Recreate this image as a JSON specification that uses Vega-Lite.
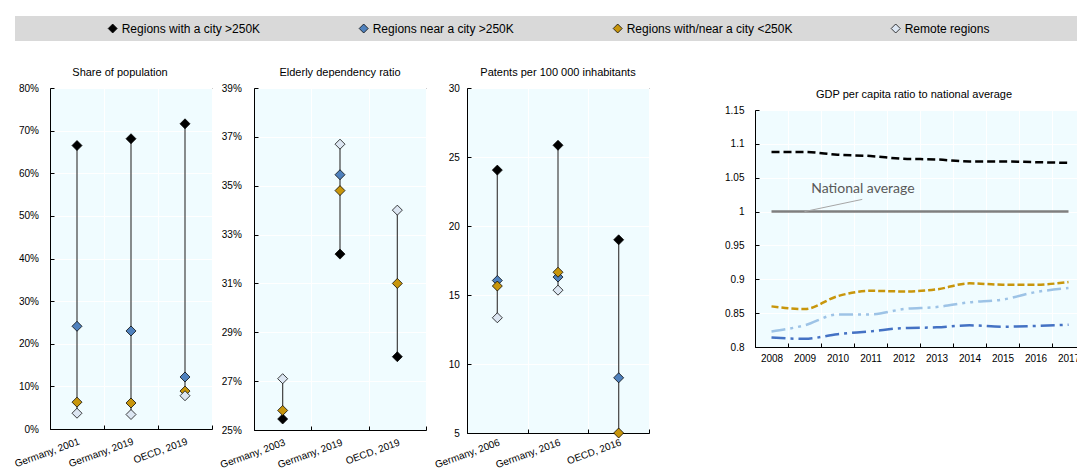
{
"$schema": "https://vega.github.io/schema/vega-lite/v6.json",
"background": "white",
"padding": {"left": 12, "top": 16, "right": 0, "bottom": 0},
"config": {
  "font": "Liberation Sans",
  "view": {"fill": "#F0FCFF", "stroke": "#000000", "strokeWidth": 1},
  "axis": {"labelFontSize": 10, "labelColor": "#000000", "domainColor": "#000000", "domainWidth": 1, "tickColor": "#000000", "tickSize": -4, "gridColor": "#FFFFFF", "gridWidth": 1, "labelOverlap": false},
  "title": {"fontSize": 11, "fontWeight": "normal", "color": "#000000", "offset": 5, "anchor": "middle"}
},
"datasets": {
  "dots": [
    {"p": "pop", "cat": "Germany, 2001", "region": "Regions with a city >250K", "v": 66.5},
    {"p": "pop", "cat": "Germany, 2001", "region": "Regions near a city >250K", "v": 24.1},
    {"p": "pop", "cat": "Germany, 2001", "region": "Regions with/near a city <250K", "v": 6.3},
    {"p": "pop", "cat": "Germany, 2001", "region": "Remote regions", "v": 3.7},
    {"p": "pop", "cat": "Germany, 2019", "region": "Regions with a city >250K", "v": 68.1},
    {"p": "pop", "cat": "Germany, 2019", "region": "Regions near a city >250K", "v": 23.0},
    {"p": "pop", "cat": "Germany, 2019", "region": "Regions with/near a city <250K", "v": 6.1},
    {"p": "pop", "cat": "Germany, 2019", "region": "Remote regions", "v": 3.4},
    {"p": "pop", "cat": "OECD, 2019", "region": "Regions with a city >250K", "v": 71.6},
    {"p": "pop", "cat": "OECD, 2019", "region": "Regions near a city >250K", "v": 12.2},
    {"p": "pop", "cat": "OECD, 2019", "region": "Regions with/near a city <250K", "v": 8.9},
    {"p": "pop", "cat": "OECD, 2019", "region": "Remote regions", "v": 7.8},
    {"p": "eld", "cat": "Germany, 2003", "region": "Regions with a city >250K", "v": 25.45},
    {"p": "eld", "cat": "Germany, 2003", "region": "Regions with/near a city <250K", "v": 25.8},
    {"p": "eld", "cat": "Germany, 2003", "region": "Remote regions", "v": 27.1},
    {"p": "eld", "cat": "Germany, 2019", "region": "Regions with a city >250K", "v": 32.2},
    {"p": "eld", "cat": "Germany, 2019", "region": "Regions near a city >250K", "v": 35.45},
    {"p": "eld", "cat": "Germany, 2019", "region": "Regions with/near a city <250K", "v": 34.8},
    {"p": "eld", "cat": "Germany, 2019", "region": "Remote regions", "v": 36.7},
    {"p": "eld", "cat": "OECD, 2019", "region": "Regions with a city >250K", "v": 28.0},
    {"p": "eld", "cat": "OECD, 2019", "region": "Regions with/near a city <250K", "v": 31.0},
    {"p": "eld", "cat": "OECD, 2019", "region": "Remote regions", "v": 34.0},
    {"p": "pat", "cat": "Germany, 2006", "region": "Regions with a city >250K", "v": 24.05},
    {"p": "pat", "cat": "Germany, 2006", "region": "Regions near a city >250K", "v": 16.05},
    {"p": "pat", "cat": "Germany, 2006", "region": "Regions with/near a city <250K", "v": 15.65},
    {"p": "pat", "cat": "Germany, 2006", "region": "Remote regions", "v": 13.35},
    {"p": "pat", "cat": "Germany, 2016", "region": "Regions with a city >250K", "v": 25.85},
    {"p": "pat", "cat": "Germany, 2016", "region": "Regions near a city >250K", "v": 16.3},
    {"p": "pat", "cat": "Germany, 2016", "region": "Regions with/near a city <250K", "v": 16.65},
    {"p": "pat", "cat": "Germany, 2016", "region": "Remote regions", "v": 15.35},
    {"p": "pat", "cat": "OECD, 2016", "region": "Regions with a city >250K", "v": 19.0},
    {"p": "pat", "cat": "OECD, 2016", "region": "Regions near a city >250K", "v": 9.0},
    {"p": "pat", "cat": "OECD, 2016", "region": "Regions with/near a city <250K", "v": 5.0}
  ],
  "gdp": [
    {"year": 2008, "series": "National average", "v": 1.0},
    {"year": 2009, "series": "National average", "v": 1.0},
    {"year": 2010, "series": "National average", "v": 1.0},
    {"year": 2011, "series": "National average", "v": 1.0},
    {"year": 2012, "series": "National average", "v": 1.0},
    {"year": 2013, "series": "National average", "v": 1.0},
    {"year": 2014, "series": "National average", "v": 1.0},
    {"year": 2015, "series": "National average", "v": 1.0},
    {"year": 2016, "series": "National average", "v": 1.0},
    {"year": 2017, "series": "National average", "v": 1.0},
    {"year": 2008, "series": "Regions with a city >250K", "v": 1.088},
    {"year": 2009, "series": "Regions with a city >250K", "v": 1.088},
    {"year": 2010, "series": "Regions with a city >250K", "v": 1.084},
    {"year": 2011, "series": "Regions with a city >250K", "v": 1.082},
    {"year": 2012, "series": "Regions with a city >250K", "v": 1.078},
    {"year": 2013, "series": "Regions with a city >250K", "v": 1.077},
    {"year": 2014, "series": "Regions with a city >250K", "v": 1.074},
    {"year": 2015, "series": "Regions with a city >250K", "v": 1.074},
    {"year": 2016, "series": "Regions with a city >250K", "v": 1.073},
    {"year": 2017, "series": "Regions with a city >250K", "v": 1.072},
    {"year": 2008, "series": "Regions near a city >250K", "v": 0.814},
    {"year": 2009, "series": "Regions near a city >250K", "v": 0.812},
    {"year": 2010, "series": "Regions near a city >250K", "v": 0.819},
    {"year": 2011, "series": "Regions near a city >250K", "v": 0.823},
    {"year": 2012, "series": "Regions near a city >250K", "v": 0.828},
    {"year": 2013, "series": "Regions near a city >250K", "v": 0.829},
    {"year": 2014, "series": "Regions near a city >250K", "v": 0.832},
    {"year": 2015, "series": "Regions near a city >250K", "v": 0.830},
    {"year": 2016, "series": "Regions near a city >250K", "v": 0.831},
    {"year": 2017, "series": "Regions near a city >250K", "v": 0.833},
    {"year": 2008, "series": "Regions with/near a city <250K", "v": 0.860},
    {"year": 2009, "series": "Regions with/near a city <250K", "v": 0.856},
    {"year": 2010, "series": "Regions with/near a city <250K", "v": 0.875},
    {"year": 2011, "series": "Regions with/near a city <250K", "v": 0.883},
    {"year": 2012, "series": "Regions with/near a city <250K", "v": 0.882},
    {"year": 2013, "series": "Regions with/near a city <250K", "v": 0.885},
    {"year": 2014, "series": "Regions with/near a city <250K", "v": 0.894},
    {"year": 2015, "series": "Regions with/near a city <250K", "v": 0.892},
    {"year": 2016, "series": "Regions with/near a city <250K", "v": 0.892},
    {"year": 2017, "series": "Regions with/near a city <250K", "v": 0.896},
    {"year": 2008, "series": "Remote regions", "v": 0.823},
    {"year": 2009, "series": "Remote regions", "v": 0.832},
    {"year": 2010, "series": "Remote regions", "v": 0.848},
    {"year": 2011, "series": "Remote regions", "v": 0.848},
    {"year": 2012, "series": "Remote regions", "v": 0.856},
    {"year": 2013, "series": "Remote regions", "v": 0.859},
    {"year": 2014, "series": "Remote regions", "v": 0.866},
    {"year": 2015, "series": "Remote regions", "v": 0.870},
    {"year": 2016, "series": "Remote regions", "v": 0.881},
    {"year": 2017, "series": "Remote regions", "v": 0.887}
  ],
  "note": [{"x": 2010.77, "y": 1.033, "label": "National average"}],
  "leader": [{"x": 2009.0, "y": 1.0, "x2": 2010.75, "y2": 1.018}]
},
"spacing": 25,
"center": true,
"vconcat": [
  {"width": 1106, "height": 25, "view": {"fill": "#D9D9D9", "stroke": null}, "data": {"values": [{"a": 1}]}, "mark": {"type": "point", "opacity": 0}},
  {"spacing": 74, "hconcat": [
    {"spacing": 5, "hconcat": [
      {"width": 162, "height": 341, "title": {"text": "Share of population", "dx": -11},
       "data": {"name": "dots"}, "transform": [{"filter": "datum.p == 'pop'"}],
       "layer": [
        {"mark": {"type": "rule", "color": "#404040", "strokeWidth": 1.2},
         "encoding": {
           "x": {"field": "cat", "type": "nominal", "scale": {"type": "band", "paddingInner": 0, "paddingOuter": 0}, "axis": {"title": null, "labelAngle": -20, "labelAlign": "right", "labelBaseline": "top", "labelPadding": 11, "tickBand": "extent", "grid": true}},
           "y": {"aggregate": "min", "field": "v", "type": "quantitative", "scale": {"domain": [0, 80], "nice": false, "zero": false}, "axis": {"title": null, "values": [0,10,20,30,40,50,60,70,80], "labelExpr": "datum.value + '%'", "grid": true, "labelPadding": 15.5}},
           "y2": {"aggregate": "max", "field": "v"}}},
        {"mark": {"type": "point", "shape": "diamond", "filled": true, "size": 100, "stroke": "#000000", "strokeWidth": 0.75, "opacity": 1},
         "encoding": {
           "x": {"field": "cat", "type": "nominal", "scale": {"type": "band", "paddingInner": 0, "paddingOuter": 0}, "axis": {"title": null, "labelAngle": -20, "labelAlign": "right", "labelBaseline": "top", "labelPadding": 11, "tickBand": "extent", "grid": true}},
           "y": {"field": "v", "type": "quantitative", "scale": {"domain": [0, 80], "nice": false, "zero": false}, "axis": {"title": null, "values": [0,10,20,30,40,50,60,70,80], "labelExpr": "datum.value + '%'", "grid": true, "labelPadding": 15.5}},
           "color": {"field": "region", "type": "nominal", "scale": {"domain": ["Regions with a city >250K", "Regions near a city >250K", "Regions with/near a city <250K", "Remote regions"], "range": ["#000000", "#4F81BD", "#C8960C", "#DCE6F2"]},
             "legend": {"title": null, "orient": "none", "legendX": 91.7, "legendY": 6.5, "direction": "horizontal", "columns": 4, "columnPadding": 97, "labelFontSize": 12, "labelLimit": 0, "symbolSize": 81, "symbolType": "diamond", "symbolStrokeColor": "#000000", "symbolStrokeWidth": 0.75, "labelOffset": 3, "padding": 0}}}}
       ]},
      {"width": 172, "height": 342, "title": {"text": "Elderly dependency ratio"},
       "data": {"name": "dots"}, "transform": [{"filter": "datum.p == 'eld'"}],
       "layer": [
        {"mark": {"type": "rule", "color": "#404040", "strokeWidth": 1.2},
         "encoding": {
           "x": {"field": "cat", "type": "nominal", "scale": {"type": "band", "paddingInner": 0, "paddingOuter": 0}, "axis": {"title": null, "labelAngle": -20, "labelAlign": "right", "labelBaseline": "top", "labelPadding": 11, "tickBand": "extent", "grid": true}},
           "y": {"aggregate": "min", "field": "v", "type": "quantitative", "scale": {"domain": [25, 39], "nice": false, "zero": false}, "axis": {"title": null, "values": [25,27,29,31,33,35,37,39], "labelExpr": "datum.value + '%'", "grid": true, "labelPadding": 16.7}},
           "y2": {"aggregate": "max", "field": "v"}}},
        {"mark": {"type": "point", "shape": "diamond", "filled": true, "size": 100, "stroke": "#000000", "strokeWidth": 0.75, "opacity": 1},
         "encoding": {
           "x": {"field": "cat", "type": "nominal", "scale": {"type": "band", "paddingInner": 0, "paddingOuter": 0}, "axis": {"title": null, "labelAngle": -20, "labelAlign": "right", "labelBaseline": "top", "labelPadding": 11, "tickBand": "extent", "grid": true}},
           "y": {"field": "v", "type": "quantitative", "scale": {"domain": [25, 39], "nice": false, "zero": false}, "axis": {"title": null, "values": [25,27,29,31,33,35,37,39], "labelExpr": "datum.value + '%'", "grid": true, "labelPadding": 16.7}},
           "color": {"field": "region", "type": "nominal", "scale": {"domain": ["Regions with a city >250K", "Regions near a city >250K", "Regions with/near a city <250K", "Remote regions"], "range": ["#000000", "#4F81BD", "#C8960C", "#DCE6F2"]},
             "legend": {"title": null, "orient": "none", "legendX": 91.7, "legendY": 6.5, "direction": "horizontal", "columns": 4, "columnPadding": 97, "labelFontSize": 12, "labelLimit": 0, "symbolSize": 81, "symbolType": "diamond", "symbolStrokeColor": "#000000", "symbolStrokeWidth": 0.75, "labelOffset": 3, "padding": 0}}}}
       ]},
      {"width": 182, "height": 345, "title": {"text": "Patents per 100 000 inhabitants"},
       "data": {"name": "dots"}, "transform": [{"filter": "datum.p == 'pat'"}],
       "layer": [
        {"mark": {"type": "rule", "color": "#505050", "strokeWidth": 1.3},
         "encoding": {
           "x": {"field": "cat", "type": "nominal", "scale": {"type": "band", "paddingInner": 0, "paddingOuter": 0}, "axis": {"title": null, "labelAngle": -20, "labelAlign": "right", "labelBaseline": "top", "labelPadding": 8, "tickBand": "extent", "grid": true}},
           "y": {"aggregate": "min", "field": "v", "type": "quantitative", "scale": {"domain": [5, 30], "nice": false, "zero": false}, "axis": {"title": null, "values": [5,10,15,20,25,30], "grid": true, "labelPadding": 11.6}},
           "y2": {"aggregate": "max", "field": "v"}}},
        {"mark": {"type": "point", "shape": "diamond", "filled": true, "size": 100, "stroke": "#000000", "strokeWidth": 0.75, "opacity": 1},
         "encoding": {
           "x": {"field": "cat", "type": "nominal", "scale": {"type": "band", "paddingInner": 0, "paddingOuter": 0}, "axis": {"title": null, "labelAngle": -20, "labelAlign": "right", "labelBaseline": "top", "labelPadding": 8, "tickBand": "extent", "grid": true}},
           "y": {"field": "v", "type": "quantitative", "scale": {"domain": [5, 30], "nice": false, "zero": false}, "axis": {"title": null, "values": [5,10,15,20,25,30], "grid": true, "labelPadding": 11.6}},
           "color": {"field": "region", "type": "nominal", "scale": {"domain": ["Regions with a city >250K", "Regions near a city >250K", "Regions with/near a city <250K", "Remote regions"], "range": ["#000000", "#4F81BD", "#C8960C", "#DCE6F2"]},
             "legend": {"title": null, "orient": "none", "legendX": 91.7, "legendY": 6.5, "direction": "horizontal", "columns": 4, "columnPadding": 97, "labelFontSize": 12, "labelLimit": 0, "symbolSize": 81, "symbolType": "diamond", "symbolStrokeColor": "#000000", "symbolStrokeWidth": 0.75, "labelOffset": 3, "padding": 0}}}}
       ]}
    ]},
    {"spacing": -4, "vconcat": [
      {"width": 1, "height": 1, "view": {"fill": null, "stroke": null}, "data": {"values": [{"a": 1}]}, "mark": {"type": "point", "opacity": 0}},
      {"width": 330, "height": 237,
       "title": {"text": "GDP per capita ratio to national average", "dx": -6},
       "resolve": {"scale": {"x": "independent"}},
       "layer": [
        {"data": {"name": "gdp"},
         "mark": {"type": "line", "strokeWidth": 2.5, "interpolate": "monotone"},
         "encoding": {
           "x": {"field": "year", "type": "ordinal", "scale": {"type": "band", "paddingInner": 0, "paddingOuter": 0}, "axis": {"title": null, "labelAngle": 0, "labelAlign": "center", "labelBaseline": "top", "labelPadding": 10, "tickBand": "extent", "grid": true}},
           "y": {"field": "v", "type": "quantitative", "scale": {"domain": [0.8, 1.15], "nice": false, "zero": false}, "axis": {"title": null, "values": [0.8,0.85,0.9,0.95,1,1.05,1.1,1.15], "format": "~g", "grid": true, "labelPadding": 15}},
           "stroke": {"field": "series", "type": "nominal", "scale": {"domain": ["Regions with a city >250K", "Regions near a city >250K", "Regions with/near a city <250K", "Remote regions", "National average"], "range": ["#000000", "#4472C4", "#C8960C", "#9DC3E6", "#7F7F7F"]}, "legend": null},
           "strokeDash": {"field": "series", "type": "nominal", "scale": {"domain": ["Regions with a city >250K", "Regions near a city >250K", "Regions with/near a city <250K", "Remote regions", "National average"], "range": [[8,4],[14,5,3,5],[7,3],[14,5,3,5,3,5],[1,0]]}, "legend": null}
         }},
        {"data": {"name": "leader"},
         "mark": {"type": "rule", "color": "#A6A6A6", "strokeWidth": 1},
         "encoding": {
           "x": {"field": "x", "type": "quantitative", "scale": {"domain": [2007.5, 2017.5], "nice": false, "zero": false}, "axis": null},
           "x2": {"field": "x2"},
           "y": {"field": "y", "type": "quantitative", "scale": {"domain": [0.8, 1.15], "nice": false, "zero": false}, "axis": {"title": null, "values": [0.8,0.85,0.9,0.95,1,1.05,1.1,1.15], "format": "~g", "grid": true, "labelPadding": 15}},
           "y2": {"field": "y2"}
         }},
        {"data": {"name": "note"},
         "mark": {"type": "text", "font": "Lato", "fontSize": 14, "color": "#595959", "align": "center", "baseline": "middle"},
         "encoding": {
           "x": {"field": "x", "type": "quantitative", "scale": {"domain": [2007.5, 2017.5], "nice": false, "zero": false}, "axis": null},
           "y": {"field": "y", "type": "quantitative", "scale": {"domain": [0.8, 1.15], "nice": false, "zero": false}, "axis": {"title": null, "values": [0.8,0.85,0.9,0.95,1,1.05,1.1,1.15], "format": "~g", "grid": true, "labelPadding": 15}},
           "text": {"field": "label"}
         }}
       ]}
    ]}
  ]}
]
}
